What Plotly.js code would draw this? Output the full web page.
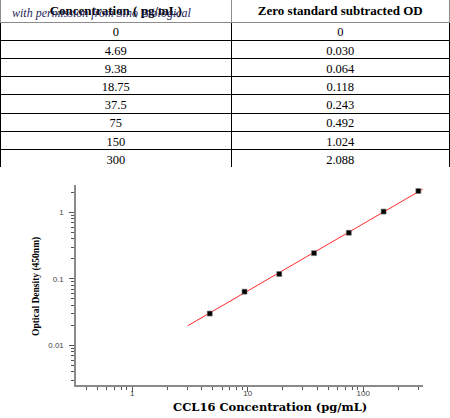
<!DOCTYPE html>
<html>
<head>
<meta charset="utf-8">
<script src="https://cdn.plot.ly/plotly-3.0.1.min.js"></script>
<style>
  html, body { margin: 0; padding: 0; background: #fff; overflow: hidden; }
  #chart { width: 450px; height: 430px; margin-top: -12px; }
</style>
</head>
<body>
<div id="chart"></div>
<script>
// Standard curve data (from the table)
let conc = [0, 4.69, 9.38, 18.75, 37.5, 75, 150, 300];
let od = [0, 0.030, 0.064, 0.118, 0.243, 0.492, 1.024, 2.088];
let headers = ["Concentration ( pg/mL)", "Zero standard subtracted OD"];

// fitted line ends
let fitX = [3.03, 327];
let fitY = [0.0197, 2.22];

let yTicks = [0.01, 0.1, 1];
let xTicks = [1, 10, 100];

// figure is 12px taller than the page and pulled up by 12px,
// so the table text can sit a bit above the page top
let W = 450, H = 430, OFF = 12;
let px = (x)=> x / W;
let py = (y)=> (H - (y + OFF)) / H;

//Table
let concLabels = conc.map(v => String(v));
let odLabels = od.map(v => v === 0 ? "0" : v.toFixed(3));
let blank = conc.map(()=> "");
let clear = "rgba(0,0,0,0)";

// grid lines only
let grid = {
    type: "table",
    domain: {x: [0, px(449)], y: [py(168), py(-2)]},
    columnwidth: [231, 217],
    header: {values: ["", ""], height: 24, fill: {color: "white"}, line: {color: "#8c8c8c", width: 1}},
    cells: {values: [blank, blank], height: 18.2, fill: {color: "white"}, line: {color: "black", width: 1}}
};

// header text (plotly puts text near the top of a cell, so these are shifted)
let headText = {
    type: "table",
    domain: {x: [0, px(449)], y: [py(60), py(-5.5)]},
    columnwidth: [231, 217],
    header: {
        values: headers.map(h => `<b>${h}</b>`), height: 20, align: "center",
        fill: {color: clear}, line: {color: clear, width: 0},
        font: {family: "Liberation Serif", size: 13, color: "black"}
    },
    cells: {values: [[""], [""]], height: 10, fill: {color: clear}, line: {color: clear, width: 0}}
};

// row text
let rowText = {
    type: "table",
    domain: {x: [0, px(449)], y: [py(185), py(18)]},
    columnwidth: [231, 217],
    header: {values: ["", ""], height: 1, fill: {color: clear}, line: {color: clear, width: 0}},
    cells: {
        values: [concLabels, odLabels], height: 18.2, align: "center",
        fill: {color: clear}, line: {color: clear, width: 0},
        font: {family: "Liberation Serif", size: 12.5, color: "black"}
    }
};

//Graph
let ptsX = [], ptsY = [];
for(let i = 0; i < conc.length; i++){
    if(conc[i] > 0 && od[i] > 0){
        ptsX.push(conc[i]);
        ptsY.push(od[i]);
    }
}

let fit = {
    x: fitX,
    y: fitY,
    mode: "lines",
    line: {color: "#ff2a2a", width: 1},
    hoverinfo: "skip"
};

let points = {
    x: ptsX,
    y: ptsY,
    mode: "markers",
    marker: {symbol: "square", size: 5, color: "black", line: {color: "#777", width: 0.6}}
};

let axisBase = {
    type: "log",
    showgrid: false,
    zeroline: false,
    showline: true,
    linecolor: "#8a8a8a",
    linewidth: 1.6,
    ticks: "outside",
    ticklen: 5,
    tickwidth: 1,
    tickcolor: "#555",
    tickfont: {family: "Liberation Sans", size: 8, color: "#444"},
    minor: {ticks: "outside", ticklen: 3, tickcolor: "#555", dtick: "D1", showgrid: false}
};

let layout = {
    width: W,
    height: H,
    margin: {l: 0, r: 0, t: 0, b: 0},
    paper_bgcolor: "white",
    plot_bgcolor: "white",
    showlegend: false,
    xaxis: Object.assign({}, axisBase, {
        domain: [px(76), px(423)],
        range: [Math.log10(0.326), Math.log10(329)],
        tickvals: xTicks,
        ticktext: xTicks.map(String),
        ticklabelstandoff: -5,
        anchor: "y"
    }),
    yaxis: Object.assign({}, axisBase, {
        domain: [py(385), py(185)],
        range: [Math.log10(0.00253), Math.log10(2.57)],
        tickvals: yTicks,
        ticktext: ["0.01", "0.1", "1"],
        ticklabelstandoff: 4,
        anchor: "x"
    }),
    annotations: [
        {
            text: "<i>with permission from Sino Biological</i>",
            xref: "paper", yref: "paper",
            x: px(10), y: py(13),
            xanchor: "left", yanchor: "middle",
            showarrow: false,
            font: {family: "Liberation Serif", size: 12, color: "#1e1e5a"}
        },
        {
            text: "<b>CCL16 Concentration (pg/mL)</b>",
            xref: "paper", yref: "paper",
            x: px(270), y: py(407),
            xanchor: "center", yanchor: "middle",
            showarrow: false,
            font: {family: "DejaVu Serif", size: 11.5, color: "black"}
        },
        {
            text: "<b>Optical Density (450nm)</b>",
            xref: "paper", yref: "paper",
            x: px(36), y: py(287),
            xanchor: "center", yanchor: "middle",
            textangle: -90,
            showarrow: false,
            font: {family: "Liberation Serif", size: 9.5, color: "black"}
        }
    ]
};

Plotly.newPlot("chart", [grid, headText, rowText, fit, points], layout, {displayModeBar: false, staticPlot: true});
</script>
</body>
</html>
